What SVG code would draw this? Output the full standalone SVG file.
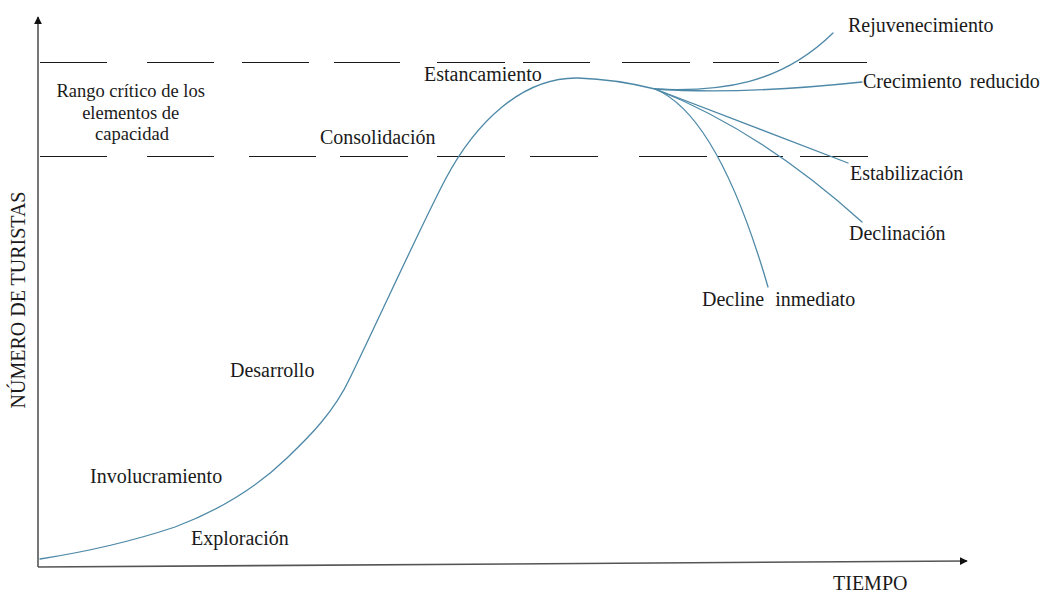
<svg xmlns="http://www.w3.org/2000/svg" width="1046" height="592" viewBox="0 0 1046 592">
  <style>
    .lbl { font-family: "Liberation Serif", serif; font-size: 20px; fill: #1a1a1a; }
    .small { font-size: 18.5px; }
    .axis { stroke: #555; stroke-width: 1.6; fill: none; }
    .dash { stroke: #1a1a1a; stroke-width: 1; fill: none; }
    .curve { stroke: #4d89a7; stroke-width: 1.3; fill: none; stroke-linecap: round; }
  </style>
  <defs>
    <marker id="arrow" viewBox="0 0 10 10" refX="9" refY="5" markerWidth="5" markerHeight="5" markerUnits="strokeWidth" orient="auto">
      <path d="M0,0 L10,5 L0,10 Z" fill="#111"/>
    </marker>
  </defs>
  <rect width="1046" height="592" fill="#fff"/>

  <!-- axes -->
  <g id="axes">
    <line class="axis" x1="38" y1="567" x2="38" y2="17" marker-end="url(#arrow)"/>
    <line class="axis" x1="38" y1="567" x2="967" y2="561" marker-end="url(#arrow)"/>
    <text class="lbl" transform="translate(25,300) rotate(-90)" text-anchor="middle">NÚMERO DE TURISTAS</text>
    <text class="lbl" x="833" y="590">TIEMPO</text>
  </g>

  <!-- critical capacity range: upper and lower dashed limits -->
  <g id="capacity-range">
    <path class="dash" d="M40,62.5H107 M147,62.5H214 M242,62.5H309 M334,62.5H400 M437,62.5H505 M523,62.5H590 M622,62.5H690 M713,62.5H779 M799,62.5H867"/>
    <path class="dash" d="M40,156.5H107 M147,156.5H214 M249,156.5H316 M340,156.5H408 M437,156.5H505 M530,156.5H598 M639,156.5H707 M717,156.5H783 M800,156.5H868"/>
    <text class="lbl small" text-anchor="middle">
      <tspan x="133" y="97">Rango crítico de los</tspan>
      <tspan x="133" y="119">elementos  de</tspan>
      <tspan x="132" y="140">capacidad</tspan>
    </text>
  </g>

  <!-- life-cycle curve and its possible outcomes -->
  <g id="connectors">
    <path id="main-curve" class="curve" d="M40,559 C85,552 130,542 175,527 C215,512 255,489 287,458 C310,436 334,412 350,378 C382,312 420,228 445,180 C475,123 522,77 578,78 C610,79 635,84 655,89"/>
    <path id="branch-rejuvenecimiento" class="curve" d="M655,89 C720,92 780,85 833,33"/>
    <path id="branch-crecimiento" class="curve" d="M655,89 Q740,95 862,82"/>
    <path id="branch-estabilizacion" class="curve" d="M655,89 L848,163"/>
    <path id="branch-declinacion" class="curve" d="M655,89 Q760,130 862,222"/>
    <path id="branch-decline" class="curve" d="M655,89 Q718,115 768,287"/>
  </g>

  <!-- stage labels -->
  <g id="exploracion"><text class="lbl" x="191" y="545">Exploración</text></g>
  <g id="involucramiento"><text class="lbl" x="90" y="483">Involucramiento</text></g>
  <g id="desarrollo"><text class="lbl" x="230" y="377">Desarrollo</text></g>
  <g id="consolidacion"><text class="lbl" x="320" y="144">Consolidación</text></g>
  <g id="estancamiento"><text class="lbl" x="424" y="81">Estancamiento</text></g>
  <g id="rejuvenecimiento"><text class="lbl" x="848" y="32">Rejuvenecimiento</text></g>
  <g id="crecimiento-reducido"><text class="lbl" x="863" y="88" word-spacing="3">Crecimiento reducido</text></g>
  <g id="estabilizacion"><text class="lbl" x="850" y="180">Estabilización</text></g>
  <g id="declinacion"><text class="lbl" x="849" y="240">Declinación</text></g>
  <g id="decline-inmediato"><text class="lbl" x="702" y="306" word-spacing="6">Decline inmediato</text></g>
</svg>
